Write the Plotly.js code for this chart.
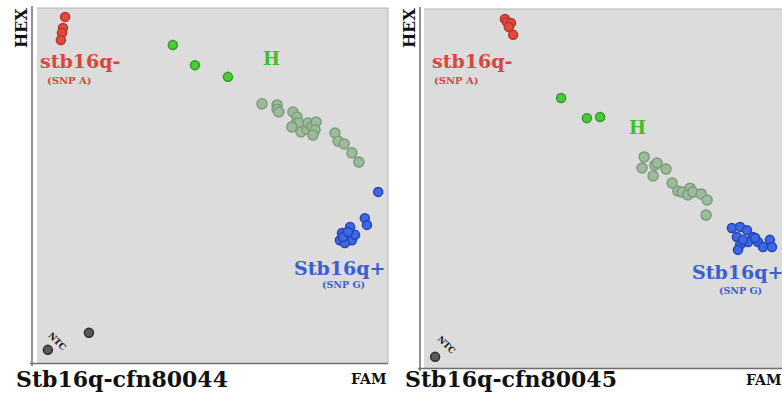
<!DOCTYPE html>
<html><head><meta charset="utf-8">
<script src="https://cdn.plot.ly/plotly-3.0.1.min.js"></script>
<style>html,body{margin:0;padding:0;background:#fff}</style>
</head><body><div id="chart" style="width:782px;height:393px"></div>
<script>
// Panel 1: Stb16q-cfn80044 (FAM vs HEX, normalized)
const p1_snpA_fam = [0.080, 0.074, 0.071, 0.068];
const p1_snpA_hex = [0.975, 0.944, 0.930, 0.910];
const p1_het_fam = [0.387, 0.450, 0.544];
const p1_het_hex = [0.896, 0.839, 0.806];
const p1_hetc_fam = [0.641,0.684,0.684,0.689,0.729,0.741,0.738,0.746,0.726,0.752,0.769,0.772,0.783,0.795,0.792,0.786,0.849,0.858,0.875,0.897,0.917];
const p1_hetc_hex = [0.730,0.727,0.715,0.707,0.707,0.693,0.676,0.676,0.665,0.651,0.659,0.676,0.665,0.679,0.656,0.642,0.648,0.625,0.617,0.592,0.566];
const p1_snpG_fam = [0.972,0.934,0.940,0.892,0.869,0.883,0.863,0.897,0.877,0.906,0.872,0.886];
const p1_snpG_hex = [0.482,0.408,0.389,0.383,0.366,0.352,0.346,0.346,0.338,0.361,0.355,0.369];
const p1_ntc_fam = [0.031, 0.148];
const p1_ntc_hex = [0.037, 0.085];

// Panel 2: Stb16q-cfn80045
const p2_snpA_fam = [0.226,0.232,0.243,0.237,0.249];
const p2_snpA_hex = [0.972,0.964,0.961,0.950,0.928];
const p2_het_fam = [0.383,0.455,0.492];
const p2_het_hex = [0.752,0.696,0.699];
const p2_hetc_fam = [0.615,0.609,0.645,0.640,0.676,0.651,0.693,0.709,0.721,0.743,0.737,0.751,0.774,0.791,0.788];
const p2_hetc_hex = [0.588,0.557,0.565,0.535,0.554,0.571,0.515,0.493,0.490,0.501,0.482,0.490,0.485,0.468,0.426];
const p2_snpG_fam = [0.860,0.883,0.902,0.874,0.919,0.905,0.883,0.933,0.966,0.947,0.972,0.877,0.925,0.891];
const p2_snpG_hex = [0.390,0.393,0.384,0.365,0.365,0.351,0.343,0.351,0.357,0.337,0.337,0.329,0.362,0.357];
const p2_ntc_fam = [0.031];
const p2_ntc_hex = [0.031];

const panelTitles = ["Stb16q-cfn80044", "Stb16q-cfn80045"];

const C = {
  red: {fill:'#e2493c', line:'#b8352a'},
  green: {fill:'#4ccb3a', line:'#2f9c28'},
  grayg: {fill:'#9dba9d', line:'#7b9c7b'},
  blue: {fill:'#3f68e2', line:'#2344b6'},
  ntc: {fill:'#5a5a5a', line:'#2e2e2e'}
};
function tr(x,y,c,xa,ya,s){
  return {type:'scatter',mode:'markers',x:x,y:y,xaxis:xa,yaxis:ya,
    marker:{size:s||9,color:c.fill,line:{color:c.line,width:1.5}},hoverinfo:'skip',showlegend:false};
}
const data = [
  tr(p1_hetc_fam,p1_hetc_hex,C.grayg,'x','y',10),
  tr(p1_het_fam,p1_het_hex,C.green,'x','y'),
  tr(p1_snpA_fam,p1_snpA_hex,C.red,'x','y'),
  tr(p1_snpG_fam,p1_snpG_hex,C.blue,'x','y'),
  tr(p1_ntc_fam,p1_ntc_hex,C.ntc,'x','y'),
  tr(p2_hetc_fam,p2_hetc_hex,C.grayg,'x2','y2',10),
  tr(p2_het_fam,p2_het_hex,C.green,'x2','y2'),
  tr(p2_snpA_fam,p2_snpA_hex,C.red,'x2','y2'),
  tr(p2_snpG_fam,p2_snpG_hex,C.blue,'x2','y2'),
  tr(p2_ntc_fam,p2_ntc_hex,C.ntc,'x2','y2')
];

const F = 'DejaVu Serif';
function ann(text,x,y,xr,yr,size,color,extra){
  return Object.assign({text:text,x:x,y:y,xref:xr,yref:yr,showarrow:false,
    font:{family:F,size:size,color:color,weight:'bold'},xanchor:'center',yanchor:'middle'},extra||{});
}
const red='#d8473b', grn='#3cbf2b', blu='#3a5fd0';
const annotations = [
  ann('<b>stb16q-</b>',0.123,0.851,'x','y',19,red),
  ann('<b>(SNP A)</b>',0.094,0.797,'x','y',10,red),
  ann('<b>H</b>',0.667,0.859,'x','y',18,grn),
  ann('<b>Stb16q+</b>',0.863,0.268,'x','y',19,blu),
  ann('<b>(SNP G)</b>',0.872,0.221,'x','y',9.5,blu),
  ann('<b>NTC</b>',0.057,0.062,'x','y',8.5,'#111',{textangle:45}),
  ann('<b>stb16q-</b>',0.134,0.855,'x2','y2',19,red),
  ann('<b>(SNP A)</b>',0.092,0.802,'x2','y2',10,red),
  ann('<b>H</b>',0.595,0.669,'x2','y2',18,grn),
  ann('<b>Stb16q+</b>',0.876,0.267,'x2','y2',19,blu),
  ann('<b>(SNP G)</b>',0.885,0.215,'x2','y2',9.5,blu),
  ann('<b>NTC</b>',0.064,0.064,'x2','y2',8.5,'#111',{textangle:45}),
  ann('<b>HEX</b>',22/782,(393-28)/393,'paper','paper',16,'#111',{textangle:-90}),
  ann('<b>HEX</b>',410/782,(393-28)/393,'paper','paper',16,'#111',{textangle:-90}),
  ann('<b>FAM</b>',368/782,(393-379)/393,'paper','paper',14,'#111'),
  ann('<b>FAM</b>',763/782,(393-380)/393,'paper','paper',14,'#111'),
  ann('<b>'+panelTitles[0]+'</b>',122/782,(393-379)/393,'paper','paper',22,'#111'),
  ann('<b>'+panelTitles[1]+'</b>',511/782,(393-379)/393,'paper','paper',22,'#111')
];

function px(v){return v/782;} function py(v){return (393-v)/393;}
function ln(x0,y0,x1,y1,col,w){return {type:'line',xref:'paper',yref:'paper',x0:px(x0),y0:py(y0),x1:px(x1),y1:py(y1),line:{color:col,width:w}};}
const shapes = [
  ln(32,6,32,366,'#6e6e6e',1.5), ln(30,363.5,388,363.5,'#6e6e6e',1.5),
  ln(388,8,388,363,'#b5b5b5',1), ln(37,8,388,8,'#b5b5b5',1),
  ln(420,7,420,371,'#6e6e6e',1.5), ln(418,368.5,782,368.5,'#6e6e6e',1.5),
  ln(424,9,782,9,'#b5b5b5',1)
];

const ax = {range:[0,1],showgrid:false,zeroline:false,showticklabels:false,ticks:'',showline:false,fixedrange:true};
const layout = {
  width:782,height:393,margin:{l:0,r:0,t:0,b:0},
  paper_bgcolor:'#ffffff',plot_bgcolor:'#dcdcdc',
  xaxis:Object.assign({},ax,{domain:[37/782,388/782],anchor:'y'}),
  yaxis:Object.assign({},ax,{domain:[(393-363)/393,(393-8)/393],anchor:'x'}),
  xaxis2:Object.assign({},ax,{domain:[424/782,1],anchor:'y2'}),
  yaxis2:Object.assign({},ax,{domain:[(393-368)/393,(393-9)/393],anchor:'x2'}),
  annotations:annotations, shapes:shapes, showlegend:false
};
Plotly.newPlot('chart',data,layout,{displayModeBar:false,staticPlot:true});
</script></body></html>
